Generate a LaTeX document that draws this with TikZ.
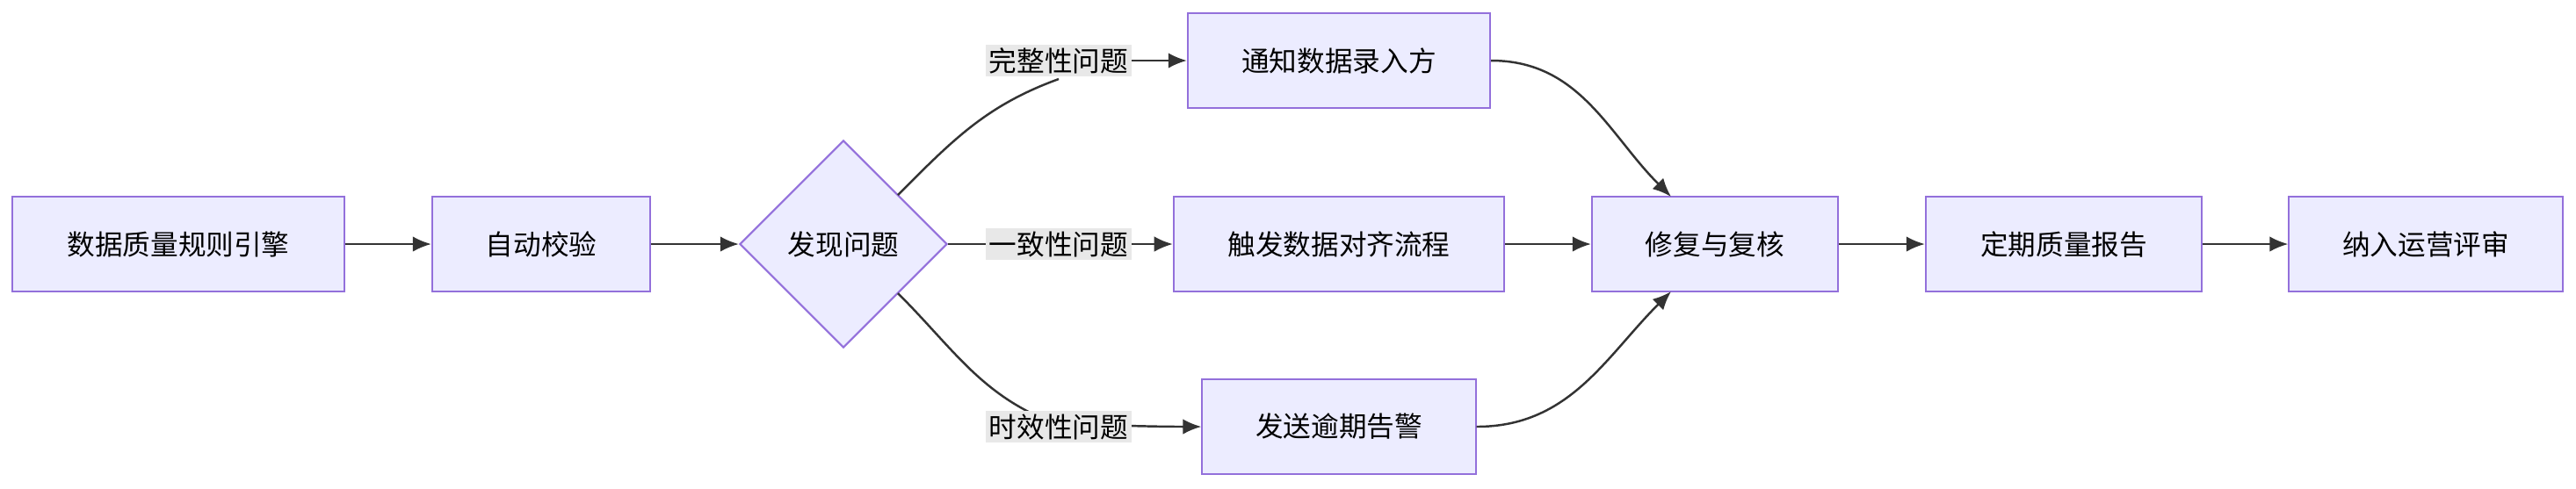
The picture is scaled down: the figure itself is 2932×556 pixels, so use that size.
\documentclass[tikz,border=0pt]{standalone}
\usepackage{fontspec}
\setmainfont{Noto Sans CJK SC}
\usetikzlibrary{shapes.geometric,arrows.meta}
\definecolor{boxfill}{HTML}{ECECFF}
\definecolor{boxline}{HTML}{9370DB}
\definecolor{edgeline}{HTML}{333333}
\definecolor{labelbg}{HTML}{E8E8E8}
\begin{document}
\begin{tikzpicture}[x=0.01cm,y=-0.01cm,
  box/.style={draw=boxline,fill=boxfill,line width=0.6pt,minimum height=1.08cm,font=\fontsize{9}{11}\selectfont},
  lab/.style={fill=labelbg,inner sep=1pt,font=\fontsize{9}{11}\selectfont},
  link/.style={draw=edgeline,line width=0.7pt,-{Latex[length=6pt,width=5pt]}}]
\useasboundingbox (0,0) rectangle (2932,556);
\node[box,minimum width=3.77cm] (engine) at (203,278) {数据质量规则引擎};
\node[box,minimum width=2.48cm] (check) at (616,278) {自动校验};
\node[box,diamond,shape aspect=1,minimum width=2.36cm,minimum height=2.36cm,inner sep=0pt] (issue) at (960,278) {发现问题};
\node[box,minimum width=3.44cm] (notify) at (1524,69) {通知数据录入方};
\node[box,minimum width=3.76cm] (align) at (1524,278) {触发数据对齐流程};
\node[box,minimum width=3.11cm] (alert) at (1524,486) {发送逾期告警};
\node[box,minimum width=2.80cm] (fix) at (1952,278) {修复与复核};
\node[box,minimum width=3.14cm] (report) at (2349,278) {定期质量报告};
\node[box,minimum width=3.11cm] (review) at (2761,278) {纳入运营评审};

% edges
\draw[link] (engine) -- (check);
\draw[link] (check) -- (issue);
\coordinate (c1) at (1205,90);
\coordinate (c3) at (1205,484);
\coordinate (fixtop) at (1902,224);
\coordinate (fixbot) at (1902,332);
\draw[draw=edgeline,line width=0.7pt] (1022,222) to[out=45,in=200] (c1);
\draw[draw=edgeline,line width=0.7pt] (1022,334) to[out=-45,in=160] (c3);
\draw[link] (issue) -- (align);
\draw[link] (c1 |- notify) -- (notify);
\draw[link] (c3) to[out=0,in=180] (alert);
\node[lab] (l1) at (1205,69) {完整性问题};
\node[lab] (l2) at (1205,278) {一致性问题};
\node[lab] (l3) at (1205,486) {时效性问题};
\draw[link] (notify) to[out=0,in=135] (fixtop);
\draw[link] (alert) to[out=0,in=-135] (fixbot);
\draw[link] (align) -- (fix);
\draw[link] (fix) -- (report);
\draw[link] (report) -- (review);
\end{tikzpicture}
\end{document}
